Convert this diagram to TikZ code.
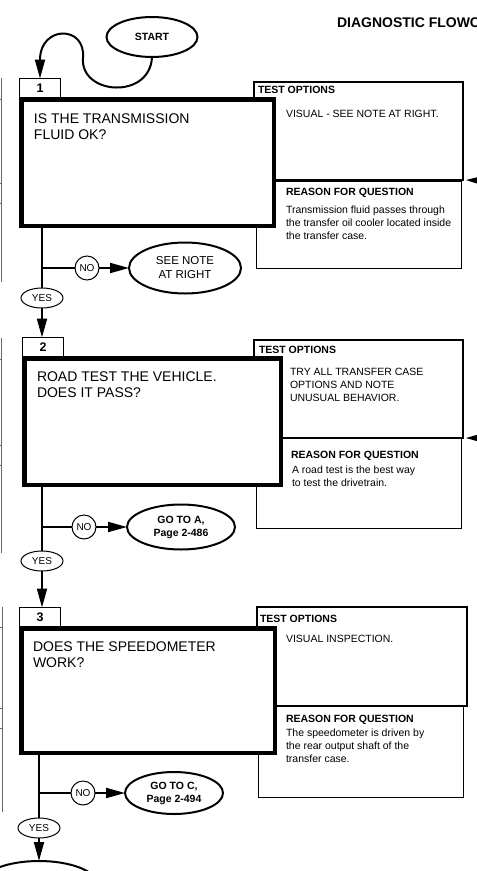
\documentclass[tikz,border=0pt]{standalone}
\usepackage{fontspec}
\setmainfont{Liberation Sans}
\usetikzlibrary{shapes.geometric,arrows.meta}

\begin{document}
\begin{tikzpicture}[x=1pt,y=-1pt]
    \tikzstyle{every node}=[inner sep=0pt,outer sep=0pt]
    \tikzstyle{tab}=[draw,line width=1pt,fill=white,anchor=north west,minimum width=41pt,minimum height=19.5pt,font=\bfseries\fontsize{12.5}{14}\selectfont]
    \tikzstyle{qbox}=[draw,line width=4.5pt,fill=white,anchor=north west]
    \tikzstyle{tobox}=[draw,line width=2pt,anchor=north west,minimum width=209pt,minimum height=98pt]
    \tikzstyle{rqbox}=[draw,line width=1pt,anchor=north west,minimum width=205pt]
    \tikzstyle{qtext}=[anchor=north west,align=left,font=\fontsize{14}{16}\selectfont]
    \tikzstyle{boxhead}=[anchor=base west,font=\bfseries\fontsize{10.5}{13}\selectfont]
    \tikzstyle{boxbody}=[anchor=north west,align=left,font=\fontsize{10.5}{13}\selectfont]
    \tikzstyle{oval}=[draw,ellipse,line width=2pt,align=center]
    \tikzstyle{goto}=[oval,font=\bfseries\fontsize{10.5}{13}\selectfont]
    \tikzstyle{nocirc}=[draw,circle,line width=1pt,minimum size=24pt,font=\fontsize{10}{12}\selectfont]
    \tikzstyle{yesoval}=[draw,ellipse,line width=1pt,minimum width=42pt,minimum height=20pt,font=\fontsize{10}{12}\selectfont]
    \tikzstyle{flow}=[line width=2pt]
    \tikzstyle{arr}=[flow,-{Triangle[length=19pt,width=10pt]}]
    \tikzstyle{side}=[line width=1pt,-{Triangle[length=11pt,width=6pt]}]
    \tikzstyle{pageedge}=[line width=0.8pt,black!60]
    \useasboundingbox (0,0) rectangle (477,871);
    \clip (0,0) rectangle (477,871);

    \node[anchor=base west,font=\bfseries\fontsize{14}{16}\selectfont] (title) at (337,27) {DIAGNOSTIC FLOWCHART};
    \node[oval,minimum width=91pt,minimum height=40pt,font=\bfseries\fontsize{10.5}{12}\selectfont] (start) at (152,37) {START};

    % edge of the facing page
    \draw[pageedge] (1,78) -- (1,282);
    \draw[pageedge] (1,338) -- (1,553);
    \draw[pageedge] (2,607) -- (2,812);
    \foreach \y in {99,183,203,359,445,465} \draw[pageedge] (-5,\y) -- (1,\y);
    \foreach \y in {627,708,728} \draw[pageedge] (-5,\y) -- (2,\y);

    % step 1
    \node[tobox] (to1) at (254,82) {};
    \node[rqbox,minimum height=87pt] (rq1) at (256.5,181) {};
    \node[tab] (tab1) at (19.5,78.5) {1};
    \node[qbox,minimum width=252.5pt,minimum height=126.5pt] (q1) at (21.25,99.25) {};
    \node[qtext] (q1t) at (34,114) {IS THE TRANSMISSION\\FLUID OK?};
    \node[boxhead] (to1h) at (258,93) {TEST OPTIONS};
    \node[boxbody] (to1b) at (286,110.5) {VISUAL - SEE NOTE AT RIGHT.};
    \node[boxhead] (rq1h) at (286,195) {REASON FOR QUESTION};
    \node[boxbody] (rq1b) at (286,205.5) {Transmission fluid passes through\\the transfer oil cooler located inside\\the transfer case.};
    \node[nocirc] (no1) at (87,268) {NO};
    \node[oval,minimum width=112pt,minimum height=51pt,font=\fontsize{11.5}{14}\selectfont] (see1) at (185,268) {SEE NOTE\\AT RIGHT};
    \node[yesoval] (yes1) at (42,298) {YES};
    \coordinate (j1) at (42,268);
    \coordinate (in1) at (495,181);
    \draw[arr] (start.south) .. controls (150,100) and (80,95) .. (83,58) .. controls (86,25) and (40,25) .. (tab1.north);
    \draw[flow] (yes1 |- q1.south) -- (yes1);
    \draw[flow] (j1) -- (no1);
    \draw[arr] (no1) -- (see1);
    \draw[side] (in1) -- ([xshift=3pt]to1.south east);

    % step 2
    \node[tobox] (to2) at (254,340) {};
    \node[rqbox,minimum height=90pt] (rq2) at (256.5,438.5) {};
    \node[tab] (tab2) at (22.5,337.5) {2};
    \node[qbox,minimum width=256.5pt,minimum height=126.5pt] (q2) at (24.25,358.25) {};
    \node[qtext] (q2t) at (37,372) {ROAD TEST THE VEHICLE.\\DOES IT PASS?};
    \node[boxhead] (to2h) at (259,353) {TEST OPTIONS};
    \node[boxbody] (to2b) at (290,368.5) {TRY ALL TRANSFER CASE\\OPTIONS AND NOTE\\UNUSUAL BEHAVIOR.};
    \node[boxhead] (rq2h) at (291,458) {REASON FOR QUESTION};
    \node[boxbody] (rq2b) at (292,465.5) {A road test is the best way\\to test the drivetrain.};
    \node[nocirc] (no2) at (84,527) {NO};
    \node[goto,minimum width=108pt,minimum height=45pt] (goa) at (181,527) {GO TO A,\\Page 2-486};
    \node[yesoval] (yes2) at (42,561) {YES};
    \coordinate (j2) at (42,527);
    \coordinate (in2) at (495,438);
    \draw[arr] (yes1) -- (yes1 |- tab2.north);
    \draw[flow] (yes2 |- q2.south) -- (yes2);
    \draw[flow] (j2) -- (no2);
    \draw[arr] (no2) -- (goa);
    \draw[side] (in2) -- ([xshift=3pt]to2.south east);

    % step 3
    \node[tobox,minimum width=210pt,minimum height=99pt] (to3) at (257,607) {};
    \node[rqbox,minimum height=91pt] (rq3) at (258.5,706.5) {};
    \node[tab,minimum height=19pt] (tab3) at (19.5,607.5) {3};
    \node[qbox,minimum width=253.5pt,minimum height=124.5pt] (q3) at (21.25,628.25) {};
    \node[qtext] (q3t) at (33,642) {DOES THE SPEEDOMETER\\WORK?};
    \node[boxhead] (to3h) at (260,622) {TEST OPTIONS};
    \node[boxbody] (to3b) at (286,635.5) {VISUAL INSPECTION.};
    \node[boxhead] (rq3h) at (286,722) {REASON FOR QUESTION};
    \node[boxbody] (rq3b) at (286,728.5) {The speedometer is driven by\\the rear output shaft of the\\transfer case.};
    \node[nocirc] (no3) at (83,793) {NO};
    \node[goto,minimum width=98pt,minimum height=42pt] (goc) at (174,793) {GO TO C,\\Page 2-494};
    \node[yesoval] (yes3) at (39,828) {YES};
    \node[oval,minimum width=116pt,minimum height=46pt] (next) at (39,884) {};
    \coordinate (j3) at (39,793);
    \draw[arr] (yes2) -- (yes2 |- tab3.north);
    \draw[flow] (yes3 |- q3.south) -- (yes3);
    \draw[flow] (j3) -- (no3);
    \draw[arr] (no3) -- (goc);
    \draw[arr] (yes3) -- (next);
\end{tikzpicture}
\end{document}
